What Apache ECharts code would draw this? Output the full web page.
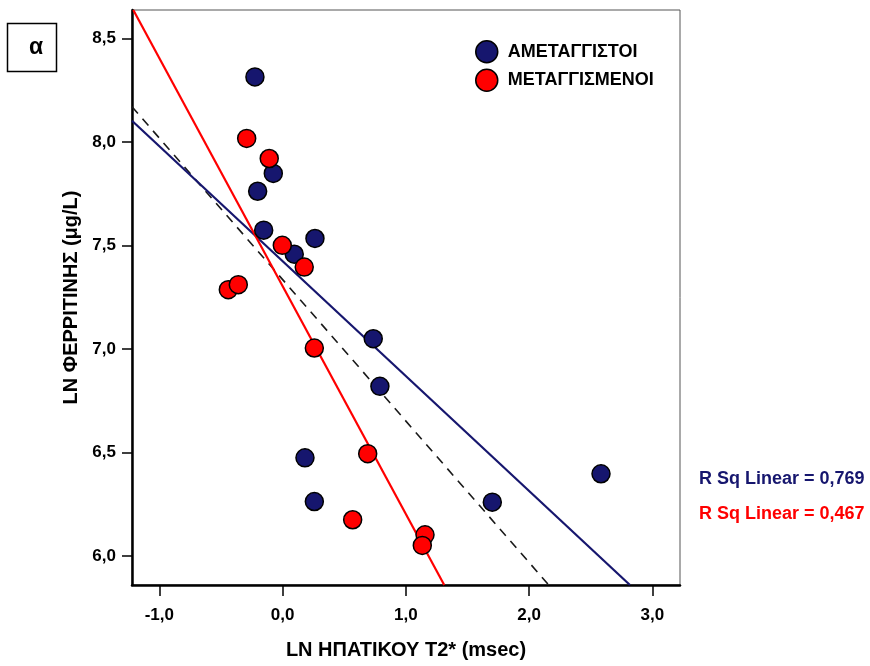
<!DOCTYPE html>
<html>
<head>
<meta charset="utf-8">
<script src="https://cdn.jsdelivr.net/npm/echarts@6/dist/echarts.min.js"></script>
<style>
html,body{margin:0;padding:0;background:#fff}
#main{width:870px;height:666px}
</style>
</head>
<body>
<div id="main"></div>
<script>
// ln of hepatic T2* vs ln of ferritin, two groups
var groupNames = ['ΑΜΕΤΑΓΓΙΣΤΟΙ', 'ΜΕΤΑΓΓΙΣΜΕΝΟΙ'];

var untransfused = [
    [-0.224, 8.314], [-0.075, 7.848], [-0.202, 7.762], [-0.153, 7.574],
    [0.095, 7.458], [0.263, 7.534], [0.736, 7.050], [0.790, 6.820],
    [0.182, 6.475], [0.258, 6.264], [1.702, 6.261], [2.584, 6.398]
];
var transfused = [
    [-0.291, 8.017], [-0.108, 7.920], [-0.002, 7.501], [0.176, 7.396],
    [-0.440, 7.287], [-0.359, 7.311], [0.258, 7.005], [0.691, 6.495],
    [0.569, 6.176], [1.156, 6.103], [1.134, 6.052]
];

// fit lines (end points where they leave the frame)
var fitUntransfused = [[-1.2215, 8.102], [2.819, 5.861]];
var fitTransfused = [[-1.211, 8.637], [1.312, 5.861]];
var fitAll = [[-1.2215, 8.170], [2.160, 5.861]];

var rSquared = ['0,769', '0,467'];

var xTicks = [-1, 0, 1, 2, 3];
var yTicks = [6, 6.5, 7, 7.5, 8, 8.5];

var navy = '#16166e';
var red = '#ff0000';
var font = 'Liberation Sans';

function comma(v) {
    return v.toFixed(1).replace('.', ',');
}

var myChart = echarts.init(document.getElementById('main'));

var option = {
    animation: false,
    backgroundColor: '#fff',
    grid: {
        left: 132,
        right: 190,
        top: 10,
        bottom: 81,
        show: true,
        borderColor: '#555',
        borderWidth: 1
    },
    legend: {
        orient: 'vertical',
        left: 475,
        top: 40,
        padding: 0,
        itemWidth: 32,
        itemHeight: 22,
        itemGap: 5,
        icon: 'circle',
        textStyle: { fontFamily: font, fontWeight: 'bold', fontSize: 18, color: '#000' },
        data: [
            { name: groupNames[0], itemStyle: { color: navy, borderColor: '#000', borderWidth: 1.5 } },
            { name: groupNames[1], itemStyle: { color: red, borderColor: '#000', borderWidth: 1.5 } }
        ]
    },
    xAxis: {
        type: 'value',
        min: -1.2215,
        max: 3.225,
        name: 'LN ΗΠΑΤΙΚΟΥ T2* (msec)',
        nameLocation: 'middle',
        nameGap: 55,
        nameTextStyle: { fontFamily: font, fontWeight: 'bold', fontSize: 20, color: '#000' },
        splitLine: { show: false },
        axisLine: { show: true, onZero: false, lineStyle: { color: '#000', width: 2.5 } },
        axisTick: { show: true, inside: false, length: 11, customValues: xTicks, lineStyle: { color: '#000', width: 1.5 } },
        axisLabel: {
            customValues: xTicks,
            margin: 22,
            formatter: comma,
            fontFamily: font, fontWeight: 'bold', fontSize: 17, color: '#000'
        }
    },
    yAxis: {
        type: 'value',
        min: 5.861,
        max: 8.637,
        name: 'LN ΦΕΡΡΙΤΙΝΗΣ (μg/L)',
        nameLocation: 'middle',
        nameGap: 34,
        nameTextStyle: { fontFamily: font, fontWeight: 'bold', fontSize: 20, color: '#000' },
        splitLine: { show: false },
        axisLine: { show: true, onZero: false, lineStyle: { color: '#000', width: 2.5 } },
        axisTick: { show: true, inside: false, length: 10, customValues: yTicks, lineStyle: { color: '#000', width: 1.5 } },
        axisLabel: {
            customValues: yTicks,
            margin: 16,
            formatter: comma,
            fontFamily: font, fontWeight: 'bold', fontSize: 17, color: '#000'
        }
    },
    series: [
        {
            type: 'line',
            data: fitAll,
            symbol: 'none',
            silent: true,
            z: 1,
            lineStyle: { color: '#1a1a1a', width: 1.6, type: [9, 7] }
        },
        {
            type: 'line',
            data: fitUntransfused,
            symbol: 'none',
            silent: true,
            z: 1,
            lineStyle: { color: navy, width: 2.2 }
        },
        {
            type: 'line',
            data: fitTransfused,
            symbol: 'none',
            silent: true,
            z: 1,
            lineStyle: { color: red, width: 2.2 }
        },
        {
            name: groupNames[0],
            type: 'scatter',
            data: untransfused,
            symbolSize: 18,
            z: 3,
            itemStyle: { color: navy, borderColor: '#000', borderWidth: 1.5, opacity: 1 }
        },
        {
            name: groupNames[1],
            type: 'scatter',
            data: transfused,
            symbolSize: 18,
            z: 3,
            itemStyle: { color: red, borderColor: '#000', borderWidth: 1.5, opacity: 1 }
        }
    ],
    graphic: [
        {
            type: 'rect',
            shape: { x: 7.5, y: 23.5, width: 49, height: 48 },
            style: { fill: '#fff', stroke: '#000', lineWidth: 1.5 }
        },
        {
            type: 'text',
            x: 36, y: 48,
            style: { text: 'α', font: 'bold 23px ' + font, fill: '#000', align: 'center', verticalAlign: 'middle' }
        },
        {
            type: 'text',
            x: 699, y: 479,
            style: { text: 'R Sq Linear = ' + rSquared[0], font: 'bold 18px ' + font, fill: navy, align: 'left', verticalAlign: 'middle' }
        },
        {
            type: 'text',
            x: 699, y: 514,
            style: { text: 'R Sq Linear = ' + rSquared[1], font: 'bold 18px ' + font, fill: red, align: 'left', verticalAlign: 'middle' }
        }
    ]
};

myChart.setOption(option);
</script>
</body>
</html>
